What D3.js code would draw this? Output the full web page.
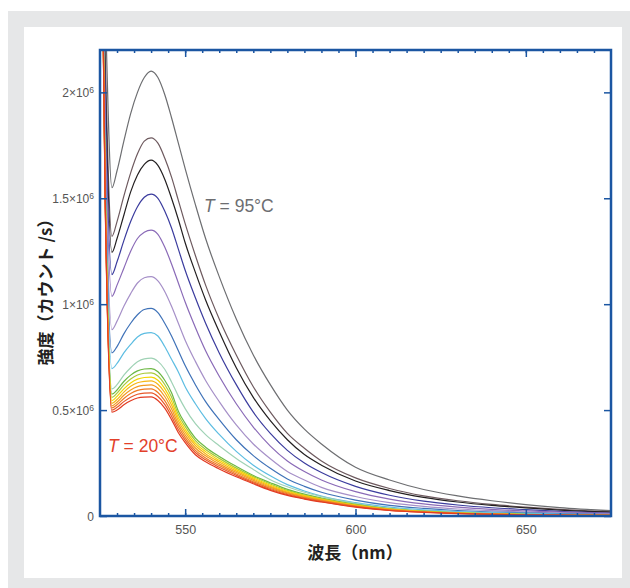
<!DOCTYPE html>
<html>
<head>
<meta charset="utf-8">
<script src="https://cdn.jsdelivr.net/npm/d3@7"></script>
<style>
  body { margin: 0; background: #fff; }
  svg { display: block; }
  .tick text { font-family: "Liberation Sans", Arial, sans-serif; }
</style>
</head>
<body>
<div id="chart"></div>
<script>
// wavelength grid (nm)
const wavelengths = [525, 526.5, 528.5, 530, 532, 534, 536, 538, 540, 542, 544, 546, 548, 550, 553, 556, 560, 565, 570, 575, 580, 585, 590, 600, 610, 620, 630, 640, 650, 660, 675];

// intensity (x10^6 counts/s), hottest first
const t95 = [3.5, 2.45, 1.55, 1.63, 1.77, 1.90, 2.00, 2.07, 2.10, 2.07, 1.99, 1.88, 1.76, 1.64, 1.47, 1.31, 1.13, 0.93, 0.76, 0.62, 0.50, 0.41, 0.34, 0.23, 0.17, 0.125, 0.095, 0.072, 0.054, 0.04, 0.025];
const t90 = [3.5, 2.2, 1.32, 1.39, 1.51, 1.62, 1.71, 1.77, 1.785, 1.76, 1.69, 1.60, 1.49, 1.38, 1.23, 1.09, 0.93, 0.76, 0.61, 0.49, 0.39, 0.32, 0.26, 0.18, 0.13, 0.095, 0.072, 0.055, 0.042, 0.031, 0.02];
const t85 = [3.5, 2.1, 1.245, 1.31, 1.42, 1.53, 1.61, 1.66, 1.68, 1.655, 1.59, 1.50, 1.40, 1.29, 1.15, 1.02, 0.87, 0.70, 0.56, 0.45, 0.36, 0.29, 0.24, 0.165, 0.12, 0.088, 0.066, 0.05, 0.038, 0.028, 0.018];
const t80 = [3.5, 2.0, 1.14, 1.20, 1.30, 1.39, 1.46, 1.505, 1.52, 1.50, 1.44, 1.36, 1.26, 1.16, 1.03, 0.91, 0.77, 0.62, 0.49, 0.39, 0.31, 0.25, 0.205, 0.14, 0.098, 0.07, 0.052, 0.039, 0.03, 0.022, 0.014];
const t75 = [3.5, 1.9, 1.037, 1.09, 1.17, 1.25, 1.31, 1.34, 1.35, 1.33, 1.27, 1.19, 1.10, 1.01, 0.89, 0.78, 0.66, 0.53, 0.42, 0.33, 0.26, 0.21, 0.17, 0.115, 0.08, 0.057, 0.042, 0.031, 0.024, 0.018, 0.012];
const t70 = [3.5, 1.8, 0.88, 0.92, 0.99, 1.05, 1.10, 1.125, 1.13, 1.11, 1.06, 0.99, 0.91, 0.83, 0.73, 0.64, 0.54, 0.43, 0.34, 0.27, 0.21, 0.17, 0.135, 0.092, 0.063, 0.045, 0.033, 0.025, 0.019, 0.014, 0.009];
const t65 = [3.5, 1.7, 0.77, 0.80, 0.86, 0.91, 0.95, 0.975, 0.98, 0.96, 0.91, 0.85, 0.78, 0.71, 0.62, 0.54, 0.455, 0.36, 0.285, 0.225, 0.175, 0.14, 0.112, 0.075, 0.05, 0.036, 0.026, 0.019, 0.015, 0.011, 0.007];
const t60 = [3.5, 1.65, 0.696, 0.72, 0.77, 0.81, 0.845, 0.862, 0.866, 0.85, 0.80, 0.74, 0.68, 0.61, 0.53, 0.46, 0.385, 0.305, 0.24, 0.19, 0.148, 0.118, 0.094, 0.063, 0.042, 0.029, 0.021, 0.016, 0.012, 0.009, 0.006];
const t55 = [3.5, 1.6, 0.60, 0.62, 0.665, 0.70, 0.728, 0.742, 0.745, 0.73, 0.693, 0.633, 0.566, 0.507, 0.436, 0.384, 0.332, 0.272, 0.22, 0.171, 0.138, 0.112, 0.092, 0.06, 0.037, 0.025, 0.016, 0.012, 0.008, 0.006, 0.004];
const t50 = [3.5, 1.58, 0.575, 0.595, 0.635, 0.665, 0.685, 0.694, 0.696, 0.681, 0.641, 0.582, 0.495, 0.437, 0.368, 0.325, 0.281, 0.234, 0.191, 0.157, 0.126, 0.103, 0.085, 0.055, 0.034, 0.023, 0.015, 0.011, 0.008, 0.005, 0.003];
const t45 = [3.5, 1.56, 0.56, 0.58, 0.618, 0.647, 0.666, 0.674, 0.676, 0.661, 0.621, 0.562, 0.479, 0.423, 0.356, 0.314, 0.272, 0.226, 0.186, 0.151, 0.121, 0.099, 0.082, 0.053, 0.033, 0.022, 0.015, 0.01, 0.007, 0.005, 0.003];
const t40 = [3.5, 1.55, 0.545, 0.565, 0.60, 0.628, 0.646, 0.654, 0.656, 0.641, 0.601, 0.542, 0.464, 0.409, 0.344, 0.304, 0.263, 0.219, 0.18, 0.145, 0.117, 0.096, 0.079, 0.051, 0.032, 0.021, 0.014, 0.01, 0.007, 0.005, 0.003];
const t35 = [3.5, 1.54, 0.532, 0.55, 0.585, 0.612, 0.629, 0.636, 0.638, 0.622, 0.583, 0.524, 0.45, 0.396, 0.333, 0.294, 0.255, 0.212, 0.174, 0.14, 0.113, 0.093, 0.077, 0.049, 0.031, 0.02, 0.013, 0.009, 0.007, 0.005, 0.003];
const t30 = [3.5, 1.53, 0.52, 0.537, 0.57, 0.595, 0.611, 0.617, 0.619, 0.603, 0.564, 0.506, 0.435, 0.383, 0.321, 0.284, 0.246, 0.205, 0.168, 0.135, 0.109, 0.089, 0.074, 0.048, 0.03, 0.019, 0.013, 0.009, 0.006, 0.005, 0.003];
const t25 = [3.5, 1.52, 0.51, 0.525, 0.555, 0.578, 0.593, 0.599, 0.60, 0.583, 0.545, 0.488, 0.421, 0.37, 0.31, 0.274, 0.238, 0.198, 0.162, 0.13, 0.105, 0.086, 0.071, 0.046, 0.028, 0.019, 0.012, 0.009, 0.006, 0.004, 0.003];
const t22 = [3.5, 1.51, 0.50, 0.513, 0.54, 0.561, 0.575, 0.58, 0.581, 0.564, 0.527, 0.471, 0.407, 0.358, 0.30, 0.265, 0.23, 0.192, 0.157, 0.125, 0.101, 0.083, 0.068, 0.044, 0.027, 0.018, 0.012, 0.008, 0.006, 0.004, 0.003];
const t20 = [3.5, 1.5, 0.49, 0.50, 0.525, 0.544, 0.557, 0.561, 0.562, 0.545, 0.509, 0.455, 0.393, 0.346, 0.289, 0.256, 0.222, 0.185, 0.152, 0.121, 0.097, 0.08, 0.066, 0.042, 0.026, 0.017, 0.011, 0.008, 0.006, 0.004, 0.003];

const spectra = [t95, t90, t85, t80, t75, t70, t65, t60, t55, t50, t45, t40, t35, t30, t25, t22, t20];
const colors = ["#6d6e71", "#6e5a5f", "#231f20", "#3b3c9e", "#8a6ab7", "#a690c8", "#3f72b8", "#5dbde2", "#9fd2b5", "#6cb844", "#a9c93a", "#f3d500", "#f7b716", "#f39a20", "#ee7a24", "#e8582a", "#e23b22"];

const yTicks = [0, 0.5, 1, 1.5, 2];
const yTickLabels = ["0", "0.5×10", "1×10", "1.5×10", "2×10"];
const xTicks = [550, 600, 650];

const W = 630, H = 588;
const svg = d3.select("#chart").append("svg")
    .attr("width", W)
    .attr("height", H);

// background frame
svg.append("rect").attr("x", 0).attr("y", 0).attr("width", W).attr("height", H).attr("fill", "#fff");
svg.append("rect").attr("x", 8).attr("y", 11).attr("width", W - 8).attr("height", H - 11).attr("fill", "#e6e7e8");
svg.append("rect").attr("x", 24).attr("y", 27).attr("width", 598).attr("height", 551).attr("fill", "#fff");

const margin = {top: 50, right: 19, bottom: 72, left: 100};
const width = W - margin.left - margin.right;
const height = H - margin.top - margin.bottom;

const x = d3.scaleLinear().domain([525, 675]).range([0, width]);
const y = d3.scaleLinear().domain([0, 2.2]).range([height, 0]);

const g = svg.append("g")
    .attr("transform", "translate(" + margin.left + "," + margin.top + ")");

g.append("defs").append("clipPath")
    .attr("id", "clip")
  .append("rect")
    .attr("width", width)
    .attr("height", height);

const line = d3.line()
    .curve(d3.curveMonotoneX)
    .x(function(d, i) { return x(wavelengths[i]); })
    .y(function(d) { return y(d); });

// draw coolest last so the red sits on top at the bottom
const lines = g.append("g").attr("clip-path", "url(#clip)");
spectra.forEach(function(s, i) {
  lines.append("path")
      .datum(s)
      .attr("fill", "none")
      .attr("stroke", colors[i])
      .attr("stroke-width", 1.2)
      .attr("d", line);
});

const blue = "#1b56a2";
const minor = d3.range(530, 675, 5);

// x ticks, inward
g.append("g")
    .attr("transform", "translate(0," + height + ")")
    .call(d3.axisBottom(x).tickValues(minor).tickSize(-3).tickFormat(""))
    .call(function(a) { a.select(".domain").remove(); a.selectAll("line").attr("stroke", blue).attr("stroke-width", 1.5); });
g.append("g")
    .attr("transform", "translate(0," + height + ")")
    .call(d3.axisBottom(x).tickValues(xTicks).tickSize(-7).tickPadding(9).tickFormat(d3.format("d")))
    .call(function(a) {
      a.select(".domain").remove();
      a.selectAll("line").attr("stroke", blue).attr("stroke-width", 1.5);
      a.selectAll("text").attr("font-size", 12.5).attr("fill", "#555");
    });
g.append("g")
    .call(d3.axisTop(x).tickValues(minor).tickSize(-3).tickFormat(""))
    .call(function(a) { a.select(".domain").remove(); a.selectAll("line").attr("stroke", blue).attr("stroke-width", 1.5); });
g.append("g")
    .call(d3.axisTop(x).tickValues(xTicks).tickSize(-7).tickFormat(""))
    .call(function(a) { a.select(".domain").remove(); a.selectAll("line").attr("stroke", blue).attr("stroke-width", 1.5); });

// y ticks
const yAxis = g.append("g")
    .call(d3.axisLeft(y).tickValues(yTicks).tickSize(-7).tickFormat(""))
    .call(function(a) { a.select(".domain").remove(); a.selectAll("line").attr("stroke", blue).attr("stroke-width", 1.5); });
yAxis.selectAll(".tick").each(function(d, i) {
  const t = d3.select(this).append("text")
      .attr("x", -6)
      .attr("dy", "0.35em")
      .attr("text-anchor", "end")
      .attr("font-size", 12)
      .attr("fill", "#555")
      .attr("font-family", "Liberation Sans, Arial, sans-serif");
  t.append("tspan").text(yTickLabels[i]);
  if (d !== 0) {
    t.append("tspan").attr("dy", "-0.5em").attr("font-size", 8.5).text("6");
  }
});
g.append("g")
    .attr("transform", "translate(" + width + ",0)")
    .call(d3.axisRight(y).tickValues(yTicks).tickSize(-7).tickFormat(""))
    .call(function(a) { a.select(".domain").remove(); a.selectAll("line").attr("stroke", blue).attr("stroke-width", 1.5); });

// frame
g.append("rect")
    .attr("width", width)
    .attr("height", height)
    .attr("fill", "none")
    .attr("stroke", blue)
    .attr("stroke-width", 2.5);

// labels
svg.append("text")
    .attr("x", 355)
    .attr("y", 559)
    .attr("text-anchor", "middle")
    .attr("font-family", "Noto Sans CJK JP")
    .attr("font-weight", "bold")
    .attr("font-size", 17)
    .attr("fill", "#231f20")
    .text("波長（nm）");

svg.append("text")
    .attr("transform", "translate(52,288) rotate(-90)")
    .attr("text-anchor", "middle")
    .attr("font-family", "Noto Sans CJK JP")
    .attr("font-weight", "bold")
    .attr("font-size", 17)
    .attr("fill", "#231f20")
    .text("強度（カウント /s）");

function annot(xp, yp, txt, col) {
  const t = svg.append("text")
      .attr("x", xp)
      .attr("y", yp)
      .attr("font-family", "Liberation Sans, Arial, sans-serif")
      .attr("font-size", 17.5)
      .attr("fill", col);
  t.append("tspan").attr("font-style", "italic").text("T");
  t.append("tspan").text(txt);
}
annot(204, 212, " = 95°C", "#6d6e71");
annot(108, 452, " = 20°C", "#e2402a");
</script>
</body>
</html>
